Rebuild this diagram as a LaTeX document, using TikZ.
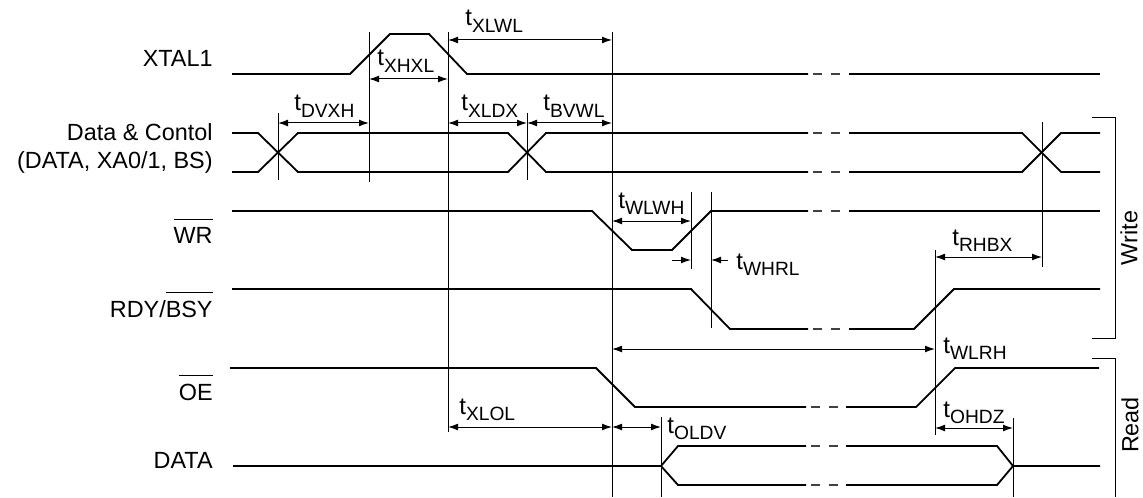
\documentclass[tikz,border=0pt]{standalone}
\usepackage{fontspec}
\setmainfont{Liberation Sans}
\usetikzlibrary{arrows.meta}
\newcommand\tsub[1]{t\raisebox{-0.26em}{\fontsize{9.6pt}{10pt}\selectfont #1}}
\newcommand\ovl[1]{\leavevmode\vbox{\hrule height 0.5pt\kern 3.6pt\hbox{#1}}}
\begin{document}
\begin{tikzpicture}[x=0.5pt,y=-0.5pt,
  sig/.style={line width=0.9pt, line join=miter},
  gl/.style={line width=0.5pt},
  gapd/.style={line width=0.7pt, black!75},
  dim/.style={line width=0.5pt, {Latex[length=5pt,width=3.4pt]}-{Latex[length=5pt,width=3.4pt]}},
  arr/.style={line width=0.5pt, -{Latex[length=5pt,width=3.4pt]}},
  lab/.style={inner sep=0pt, anchor=base east, font=\fontsize{11.7pt}{14pt}\selectfont},
  tl/.style={inner sep=0pt, anchor=base west, font=\fontsize{12pt}{14pt}\selectfont},
  side/.style={inner sep=0pt, rotate=90, font=\fontsize{11.7pt}{14pt}\selectfont}]
\useasboundingbox (0,0) rectangle (1143,497);
\newcommand\gapdash[2]{\draw[gapd] (#2+5,#1) -- (#2+14,#1); \draw[gapd] (#2+23,#1) -- (#2+32,#1);}
% signal names
\node[lab] (nxtal) at (213,67) {XTAL1};
\node[lab] (ndc1) at (213,141) {Data \& Contol};
\node[lab] (ndc2) at (213,169) {(DATA, XA0/1, BS)};
\node[lab] (nwr) at (213,243) {\ovl{WR}};
\node[lab] (nrdy) at (213,317) {RDY/\ovl{BSY}};
\node[lab] (noe) at (213,400) {\ovl{OE}};
\node[lab] (ndata) at (213,468) {DATA};
% XTAL1
\draw[sig] (232,74) -- (350,74) -- (390,34) -- (429,34) -- (467,74) -- (808,74);
\draw[sig] (849,74) -- (1100,74);
\gapdash{74}{808}
% Data & Control
\draw[sig] (232,133) -- (258,133) -- (298,172) -- (508,172) -- (546,133) -- (808,133);
\draw[sig] (232,172) -- (258,172) -- (298,133) -- (508,133) -- (546,172) -- (808,172);
\draw[sig] (849,133) -- (1022,133) -- (1061,172) -- (1100,172);
\draw[sig] (849,172) -- (1022,172) -- (1061,133) -- (1100,133);
\gapdash{133}{808}
\gapdash{172}{808}
% WR
\draw[sig] (232,211) -- (592,211) -- (632,250) -- (672,250) -- (711,211) -- (808,211);
\draw[sig] (849,211) -- (1100,211);
\gapdash{211}{808}
% RDY/BSY
\draw[sig] (232,289) -- (691,289) -- (730,329) -- (808,329);
\draw[sig] (849,329) -- (914,329) -- (954,289) -- (1100,289);
\gapdash{329}{808}
% OE
\draw[sig] (230,368) -- (596,368) -- (635,407) -- (806,407);
\draw[sig] (846,407) -- (916,407) -- (955,368) -- (1099,368);
\gapdash{407}{806}
% DATA
\draw[sig] (233,466) -- (661,466) -- (678,446) -- (806,446);
\draw[sig] (661,466) -- (678,485) -- (806,485);
\draw[sig] (846,446) -- (997,446) -- (1013,466) -- (1100,466);
\draw[sig] (846,485) -- (997,485) -- (1013,466);
\gapdash{446}{806}
\gapdash{485}{806}
% reference verticals
\draw[gl] (278,113) -- (278,180);
\draw[gl] (369,32) -- (369,182);
\draw[gl] (448,32) -- (448,432);
\draw[gl] (527,113) -- (527,180);
\draw[gl] (612,32) -- (612,497);
\draw[gl] (661,417) -- (661,497);
\draw[gl] (691,192) -- (691,269);
\draw[gl] (711,192) -- (711,328);
\draw[gl] (935,250) -- (935,435);
\draw[gl] (1042,122) -- (1042,267);
\draw[gl] (1013,418) -- (1013,497);
% dimension arrows
\draw[dim] (448,40) -- (612,40);
\draw[dim] (369,79) -- (448,79);
\draw[dim] (278,123) -- (369,123);
\draw[dim] (448,123) -- (527,123);
\draw[dim] (527,123) -- (612,123);
\draw[dim] (612,221) -- (691,221);
\draw[arr] (672,260) -- (691,260);
\draw[arr] (728,260) -- (711,260);
\draw[dim] (612,349) -- (935,349);
\draw[dim] (935,257) -- (1042,257);
\draw[dim] (448,427) -- (612,427);
\draw[dim] (612,427) -- (661,427);
\draw[dim] (935,428) -- (1013,428);
% timing labels
\node[tl] (lxlwl) at (465,26) {\tsub{XLWL}};
\node[tl] (lxhxl) at (377,66) {\tsub{XHXL}};
\node[tl] (ldvxh) at (294,111) {\tsub{DVXH}};
\node[tl] (lxldx) at (461,111) {\tsub{XLDX}};
\node[tl] (lbvwl) at (543,111) {\tsub{BVWL}};
\node[tl] (lwlwh) at (618,208) {\tsub{WLWH}};
\node[tl] (lwhrl) at (736,269) {\tsub{WHRL}};
\node[tl] (lrhbx) at (952,245) {\tsub{RHBX}};
\node[tl] (lwlrh) at (943,353) {\tsub{WLRH}};
\node[tl] (lohdz) at (943,417) {\tsub{OHDZ}};
\node[tl] (lxlol) at (459,414) {\tsub{XLOL}};
\node[tl] (loldv) at (667,433) {\tsub{OLDV}};
% brackets
\draw[gl] (1092,118) -- (1115,118) -- (1115,338) -- (1092,338);
\draw[gl] (1092,358) -- (1115,358) -- (1115,497);
\node[side] (nwrite) at (1129,238) {Write};
\node[side] (nread) at (1130,425) {Read};
\end{tikzpicture}
\end{document}
